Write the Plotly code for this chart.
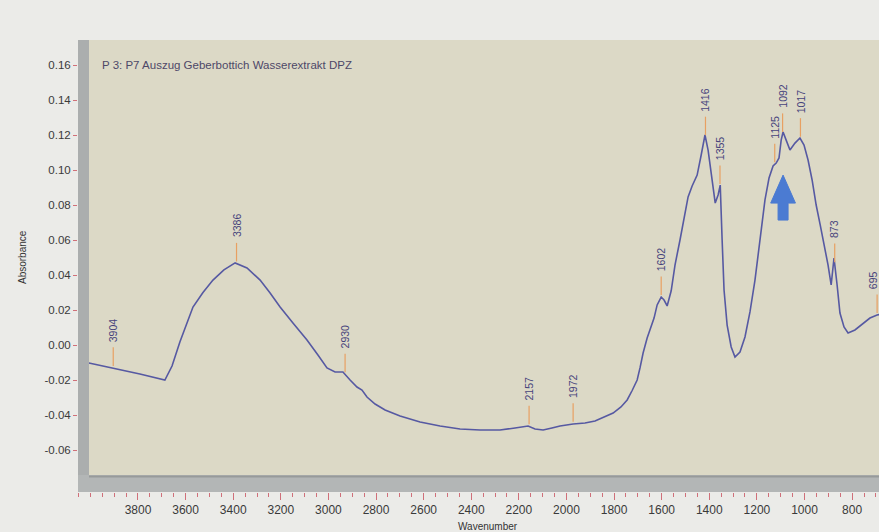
import numpy as np
import plotly.graph_objects as go

# IR spectrum (wavenumber in cm-1, absorbance)
wavenumber = [4006, 3905, 3792, 3687, 3657, 3624, 3594, 3569, 3527, 3485, 3439, 3392,
              3342, 3287, 3245, 3203, 3149, 3090, 3044, 3006, 2972, 2939, 2909, 2880,
              2859, 2838, 2804, 2762, 2699, 2615, 2531, 2447, 2363, 2279, 2216, 2161,
              2132, 2098, 2061, 2027, 1972, 1922, 1880, 1838, 1804, 1771, 1745, 1724,
              1703, 1691, 1678, 1661, 1649, 1632, 1619, 1602, 1590, 1577, 1560, 1544,
              1523, 1506, 1489, 1472, 1451, 1434, 1418, 1405, 1392, 1375, 1363, 1354,
              1346, 1338, 1325, 1308, 1292, 1271, 1250, 1229, 1208, 1187, 1166, 1149,
              1132, 1119, 1107, 1098, 1090, 1077, 1061, 1040, 1019, 1002, 985, 968,
              951, 934, 918, 901, 888, 876, 863, 851, 834, 817, 788, 758, 725, 695, 674]
absorbance = [-0.0103, -0.0131, -0.0166, -0.0200, -0.0120, 0.0017, 0.0130, 0.0217, 0.0300,
              0.0371, 0.0429, 0.0469, 0.0440, 0.0371, 0.0297, 0.0217, 0.0126, 0.0029,
              -0.0057, -0.0131, -0.0154, -0.0154, -0.0200, -0.0240, -0.0257, -0.0297,
              -0.0337, -0.0371, -0.0406, -0.0440, -0.0463, -0.0480, -0.0486, -0.0486,
              -0.0474, -0.0463, -0.0480, -0.0486, -0.0474, -0.0463, -0.0451, -0.0446,
              -0.0434, -0.0410, -0.0389, -0.0354, -0.0314, -0.0260, -0.0200, -0.0131,
              -0.0046, 0.0040, 0.0086, 0.0154, 0.0229, 0.0274, 0.0257, 0.0223, 0.0310,
              0.0457, 0.0600, 0.0726, 0.0846, 0.0909, 0.0971, 0.1086, 0.1200, 0.1114,
              0.0971, 0.0811, 0.0857, 0.0914, 0.0600, 0.0314, 0.0114, -0.0011, -0.0069,
              -0.0040, 0.0046, 0.0189, 0.0371, 0.0600, 0.0829, 0.0954, 0.1023, 0.1040,
              0.1069, 0.1171, 0.1217, 0.1171, 0.1114, 0.1154, 0.1183, 0.1143, 0.1057,
              0.0943, 0.0800, 0.0686, 0.0583, 0.0457, 0.0343, 0.0497, 0.0343, 0.0183,
              0.0103, 0.0069, 0.0086, 0.0120, 0.0154, 0.0171, 0.0177]

# Labelled peak positions
peaks = [3904, 3386, 2930, 2157, 1972, 1602, 1416, 1355, 1125, 1092, 1017, 873, 695]

y_ticks = [-0.06, -0.04, -0.02, 0.00, 0.02, 0.04, 0.06, 0.08, 0.10, 0.12, 0.14, 0.16]
y_tick_text = ["-0.06", "-0.04", "-0.02", "0.00", "0.02", "0.04", "0.06", "0.08",
               "0.10", "0.12", "0.14", "0.16"]
x_ticks = [3800, 3600, 3400, 3200, 3000, 2800, 2600, 2400, 2200, 2000, 1800, 1600,
           1400, 1200, 1000, 800]

title_text = "P 3: P7 Auszug Geberbottich Wasserextrakt DPZ"

PAGE_BG = "#ebebe8"
PLOT_BG = "#dcd9c6"
FRAME = "#abaeae"
CURVE = "#5659a2"
MARK = "#e8a062"
LABEL = "#46437c"
TICK = "#d0707a"
FONT = "Liberation Sans, Arial, sans-serif"

W, H = 879, 532
ML, MR, MT, MB = 78, 0, 40, 40
pw, ph = W - ML - MR, H - MT - MB
inner_left = 11 / pw      # width of the grey frame bar at the left
inner_bottom = 17 / ph    # height of the grey frame band at the bottom

wn = np.array(wavenumber[::-1], dtype=float)
ab = np.array(absorbance[::-1], dtype=float)

fig = go.Figure()
fig.add_trace(go.Scatter(x=wavenumber, y=absorbance, mode="lines",
                         line=dict(color=CURVE, width=1.6), hoverinfo="skip"))

shapes = [
    dict(type="rect", xref="paper", yref="paper", x0=inner_left, x1=1, y0=inner_bottom, y1=1,
         fillcolor=PLOT_BG, line=dict(width=0), layer="below"),
    dict(type="rect", xref="paper", yref="paper", x0=0, x1=inner_left, y0=0, y1=1,
         fillcolor=FRAME, line=dict(width=0), layer="above"),
    dict(type="rect", xref="paper", yref="paper", x0=0, x1=1, y0=0, y1=inner_bottom,
         fillcolor="#b3b6b6", line=dict(width=0), layer="above"),
    dict(type="line", xref="paper", yref="paper", x0=inner_left, x1=1,
         y0=inner_bottom - 1.5 / ph, y1=inner_bottom - 1.5 / ph,
         line=dict(color="#979a9a", width=2), layer="above"),
]

annotations = []
for p in peaks:
    yp = float(np.interp(p, wn, ab))
    shapes.append(dict(type="line", xref="x", yref="y", x0=p, x1=p,
                       y0=yp + 0.0012, y1=yp + 0.0118,
                       line=dict(color=MARK, width=1.2), layer="above"))
    # the last label sits at the right edge; nudge it inwards so it stays readable
    shift = -4 if p == peaks[-1] else 0
    annotations.append(dict(x=p, y=yp, xref="x", yref="y", text=str(p), showarrow=False,
                            textangle=-90, yanchor="bottom", xanchor="center", yshift=24,
                            xshift=shift,
                            font=dict(family=FONT, size=10.5, color=LABEL)))

# Blue arrow pointing at the 1092 band
ax0, ay0 = 1090, 0.0971
hw, sw = 52, 21
arrow_path = (f"M {ax0},{ay0} L {ax0 + hw},{ay0 - 0.016} L {ax0 + sw},{ay0 - 0.016} "
              f"L {ax0 + sw},{ay0 - 0.0257} L {ax0 - sw},{ay0 - 0.0257} "
              f"L {ax0 - sw},{ay0 - 0.016} L {ax0 - hw},{ay0 - 0.016} Z")
shapes.append(dict(type="path", xref="x", yref="y", path=arrow_path,
                   fillcolor="#4b7bd2", line=dict(color="#4b7bd2", width=1), layer="above"))

annotations += [
    dict(xref="paper", yref="paper", x=22 / pw, y=(ph - 25) / ph, text=title_text,
         showarrow=False, xanchor="left", yanchor="middle",
         font=dict(family=FONT, size=11.5, color="#4e4868")),
    dict(xref="paper", yref="paper", x=(488 - ML) / pw, y=(H - MB - 526) / ph,
         text="Wavenumber", showarrow=False, xanchor="center", yanchor="middle",
         font=dict(family=FONT, size=10, color="#333333")),
    dict(xref="paper", yref="paper", x=(22 - ML) / pw, y=(H - MB - 257) / ph,
         text="Absorbance", showarrow=False, textangle=-90, xanchor="center", yanchor="middle",
         font=dict(family=FONT, size=10, color="#333333")),
]

fig.update_layout(
    width=W, height=H,
    margin=dict(l=ML, r=MR, t=MT, b=MB),
    paper_bgcolor=PAGE_BG, plot_bgcolor=PAGE_BG,
    showlegend=False,
    shapes=shapes, annotations=annotations,
    xaxis=dict(range=[4052, 687], tickvals=x_ticks, ticks="outside", ticklen=7,
               tickcolor=TICK, tickwidth=1, showgrid=False, zeroline=False, showline=False,
               tickfont=dict(family=FONT, size=12, color="#3a3a3a"),
               minor=dict(dtick=50, tick0=0, ticks="outside", ticklen=4, tickcolor=TICK,
                          showgrid=False)),
    yaxis=dict(range=[-0.084, 0.1743], tickvals=y_ticks, ticktext=y_tick_text,
               ticks="outside", ticklen=4, tickcolor=TICK, tickwidth=1,
               showgrid=False, zeroline=False, showline=False,
               tickfont=dict(family=FONT, size=11.5, color="#3a3a3a")),
)

fig.write_html("out.html")
